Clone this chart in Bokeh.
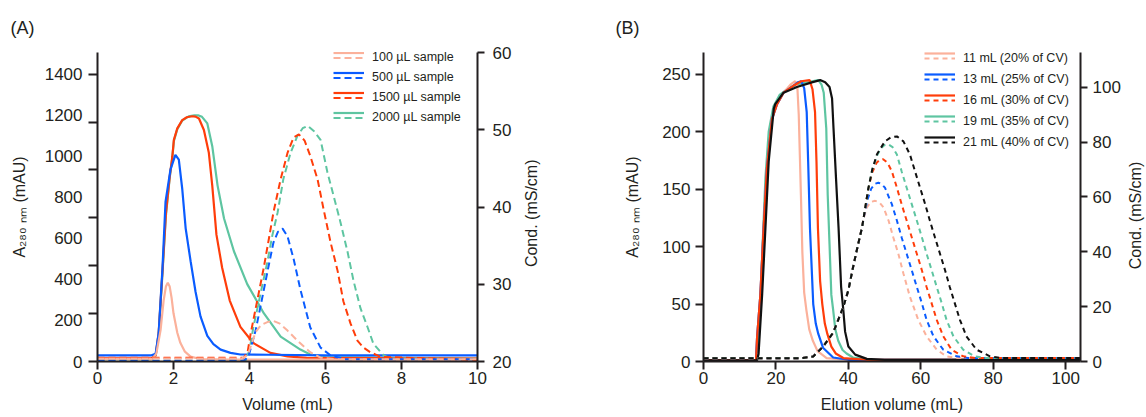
import math
from bokeh.plotting import figure
from bokeh.models import (Range1d, LinearAxis, FixedTicker, Legend, LegendItem,
                          CustomJSTickFormatter, Label)
from bokeh.layouts import row
from bokeh.embed import file_html
from bokeh.resources import INLINE

FONT = "Liberation Sans"
INK = "#231f20"

# ---------------- Panel A data ----------------
A_x_ticks = [0, 2, 4, 6, 8, 10]
A_left_labels = [0, 200, 400, 600, 800, 1000, 1200, 1400]
A_right_ticks = [20, 30, 40, 50, 60]
A_names = ["100 µL sample", "500 µL sample", "1500 µL sample", "2000 µL sample"]

a100_x = [0, 1.45, 1.55, 1.66, 1.74, 1.8, 1.85, 1.9, 1.95, 2.0, 2.1, 2.18, 2.3, 2.45, 2.7, 3.5, 10]
a100_y = [12, 12, 40, 153, 297, 365, 384, 365, 310, 235, 140, 91, 48, 24, 12, 9, 9]

a500_x = [0, 1.42, 1.53, 1.61, 1.71, 1.79, 1.92, 2.05, 2.14, 2.23, 2.32, 2.45, 2.58, 2.71, 2.89, 3.05, 3.24, 3.5, 3.76, 4.5, 6, 10]
a500_y = [30, 30, 38, 139, 455, 777, 935, 1007, 984, 841, 649, 489, 340, 220, 125, 85, 58, 42, 34, 33, 30, 30]

a1500_x = [0, 1.42, 1.53, 1.61, 1.71, 1.8, 1.9, 1.97, 2.01, 2.1, 2.23, 2.35, 2.49, 2.58, 2.67, 2.8, 2.93, 3.02, 3.13, 3.28, 3.48, 3.76, 4.1, 4.55, 5.0, 5.5, 10]
a1500_y = [15, 15, 30, 139, 440, 720, 900, 1000, 1080, 1136, 1176, 1190, 1195, 1193, 1184, 1128, 1017, 857, 618, 457, 297, 169, 90, 42, 25, 18, 14]

a2000_x = [0, 1.42, 1.53, 1.61, 1.71, 1.8, 1.9, 1.97, 2.01, 2.1, 2.23, 2.4, 2.55, 2.66, 2.75, 2.89, 3.02, 3.16, 3.33, 3.59, 3.94, 4.38, 4.82, 5.34, 5.6, 6.0, 10]
a2000_y = [12, 12, 28, 135, 430, 710, 895, 995, 1075, 1132, 1174, 1194, 1199, 1199, 1192, 1160, 1049, 857, 697, 537, 377, 234, 121, 58, 34, 22, 14]

c100_x = [0, 3.8, 3.95, 4.05, 4.16, 4.3, 4.47, 4.63, 4.8, 5.0, 5.26, 5.6, 5.87, 6.3, 10]
c100_y = [20.4, 20.4, 20.8, 22.2, 23.8, 24.7, 25.1, 25.25, 24.9, 24.0, 22.7, 21.2, 20.5, 20.3, 20.3]

c500_x = [0, 3.85, 3.97, 4.16, 4.37, 4.5, 4.63, 4.75, 4.87, 5.0, 5.16, 5.34, 5.6, 5.87, 6.13, 6.5, 10]
c500_y = [20.1, 20.1, 20.6, 24.0, 29.1, 32.3, 35.4, 36.8, 37.2, 36.2, 33.3, 29.3, 24.4, 21.8, 20.8, 20.3, 20.3]

c1500_x = [0, 3.85, 3.95, 4.03, 4.2, 4.37, 4.5, 4.63, 4.82, 5.0, 5.16, 5.3, 5.45, 5.6, 5.79, 5.95, 6.13, 6.32, 6.47, 6.66, 6.84, 7.0, 7.18, 7.45, 10]
c1500_y = [20.5, 20.5, 21.2, 23.6, 27.8, 32.0, 35.6, 39.3, 43.6, 47.0, 49.0, 49.4, 48.6, 46.6, 43.6, 39.7, 35.5, 31.7, 27.8, 24.9, 22.7, 21.8, 21.2, 20.6, 20.2]

c2000_x = [0, 3.9, 4.0, 4.1, 4.3, 4.47, 4.6, 4.74, 4.89, 5.08, 5.26, 5.4, 5.53, 5.7, 5.87, 6.05, 6.21, 6.39, 6.58, 6.74, 6.92, 7.11, 7.26, 7.53, 7.71, 10]
c2000_y = [20.1, 20.1, 21.5, 24.4, 29.0, 32.9, 36.3, 39.3, 43.6, 47.0, 49.2, 50.2, 50.5, 49.8, 48.7, 44.5, 41.5, 38.1, 34.2, 30.4, 26.9, 24.4, 22.3, 20.8, 20.4, 20.3]

# ---------------- Panel B data ----------------
B_x_ticks = [0, 20, 40, 60, 80, 100]
B_left_ticks = [0, 50, 100, 150, 200, 250]
B_right_ticks = [0, 20, 40, 60, 80, 100]
B_names = ["11 mL (20% of CV)", "13 mL (25% of CV)", "16 mL (30% of CV)",
           "19 mL (35% of CV)", "21 mL (40% of CV)"]

b11_x = [0, 14.5, 14.8, 15.7, 16.6, 17.5, 18.9, 20.3, 22.1, 24.0, 25.3, 25.9, 26.3, 26.6, 26.9, 27.3, 27.8, 28.4, 29.2, 30.2, 31.5, 34, 40, 104.1]
b11_y = [1, 1, 21, 58, 116, 168, 211, 224, 234, 241, 244, 240, 215, 180, 145, 95, 60, 45, 28, 18, 9, 3, 1.5, 1.5]

b13_x = [0, 14.5, 14.8, 15.7, 16.6, 17.5, 18.9, 20.3, 22.1, 24.8, 26.0, 27.0, 27.8, 28.5, 28.9, 29.4, 30.3, 31.0, 31.7, 33.0, 35.8, 40, 104.1]
b13_y = [1, 1, 21, 58, 116, 168, 211, 224, 234, 240, 243, 244, 238, 217, 174, 116, 50, 33, 24, 12, 3.5, 1.5, 1.5]

b16_x = [0, 14.5, 14.8, 15.7, 16.6, 17.5, 18.9, 20.3, 22.1, 24.8, 27.0, 29.3, 30.1, 30.8, 31.2, 31.6, 32.2, 32.8, 33.5, 34.2, 35.3, 36.5, 38.6, 45, 104.1]
b16_y = [1, 1, 21, 58, 116, 168, 211, 224, 234, 240, 244, 245, 237, 217, 174, 116, 70, 50, 33, 24, 13, 7, 3, 1.5, 1.5]

b19_x = [0, 14.5, 15.0, 15.6, 16.3, 17.1, 18.0, 19.3, 21, 24, 27, 30, 31.7, 32.6, 33.2, 33.9, 34.3, 34.8, 35.3, 35.8, 36.4, 37.2, 38.4, 39.5, 41.3, 46, 104.1]
b19_y = [1, 1, 4, 40, 100, 160, 200, 222, 232, 239, 242, 244, 245, 241, 234, 203, 145, 102, 58, 45, 28, 18, 10, 7, 3.5, 1.5, 1.5]

b21_x = [0, 14.8, 15.2, 16.2, 17.1, 18.0, 19.4, 19.8, 22.1, 25.8, 29.9, 32.2, 33.6, 34.8, 35.5, 35.9, 36.6, 37.3, 38.0, 38.6, 39.1, 40.0, 41.9, 45.1, 50, 104.1]
b21_y = [1, 1, 6.6, 58.6, 116, 174, 220, 224, 234, 239, 243, 245, 243, 239, 229, 203, 159, 116, 65, 45, 26, 13, 6, 2.3, 1.5, 1.5]

d11_x = [0, 27, 30.3, 33, 35.8, 38.6, 40, 41.3, 42.5, 43.5, 44.3, 45.1, 46.2, 47.4, 48.6, 49.7, 51.1, 52.4, 53.8, 55.2, 57.0, 59.3, 61.6, 64.4, 67.1, 70, 104.1]
d11_y = [1.2, 1.2, 1.8, 5.4, 10.5, 19.9, 26, 34.4, 41.6, 47.5, 52.5, 56.2, 58.2, 58.6, 58, 56.2, 51.4, 45.3, 39.3, 32.1, 23.6, 15.2, 9.2, 4.3, 1.9, 1.3, 1.3]

d13_x = [0, 27, 30.3, 33, 35.8, 38.6, 40, 41.3, 42.5, 43.8, 44.6, 45.4, 46.3, 47.3, 48.3, 49.2, 50.1, 52, 53.4, 54.7, 56.1, 57.5, 58.9, 60.3, 61.6, 63.5, 66.2, 69.9, 73, 104.1]
d13_y = [1.2, 1.2, 1.8, 5.4, 10.5, 19.9, 26, 34.4, 41.6, 49, 55, 59.5, 63, 64.8, 65.2, 64.7, 63.4, 57.4, 51.4, 45.3, 39.3, 33.3, 27.2, 21.2, 15.2, 9.2, 4.3, 1.9, 1.3, 1.3]

d16_x = [0, 27, 30.3, 33, 35.8, 38.6, 40, 41.3, 42.5, 43.8, 45.5, 46.6, 47.8, 48.7, 49.6, 50.8, 52, 53.4, 54.7, 56.1, 57.5, 58.9, 60.3, 61.6, 63, 64.4, 66.2, 68.5, 71.7, 75, 104.1]
d16_y = [1.2, 1.2, 1.8, 5.4, 10.5, 19.9, 26, 34.4, 41.6, 49, 63, 69, 72.5, 73.6, 73.8, 72.5, 69.4, 63.4, 57.4, 51.4, 45.3, 39.3, 33.3, 27.2, 21.2, 15.2, 9.2, 4.3, 1.9, 1.3, 1.3]

d19_x = [0, 27, 30.3, 33, 35.8, 38.6, 40, 41.3, 42.5, 43.8, 45.5, 46.6, 47.9, 48.9, 49.9, 51, 52.2, 53.4, 54.7, 56.1, 57.5, 58.9, 60.3, 61.6, 63, 64.4, 65.8, 67.1, 69, 71.7, 74.9, 78, 104.1]
d19_y = [1.2, 1.2, 1.8, 5.4, 10.5, 19.9, 26, 34.4, 41.6, 49, 63, 70, 75, 77.6, 78.9, 79.2, 78.2, 75.5, 69.4, 63.4, 57.4, 51.4, 45.3, 39.3, 33.3, 27.2, 21.2, 15.2, 9.2, 4.3, 1.9, 1.3, 1.3]

d21_x = [0, 27, 30.3, 33, 35.8, 38.6, 40, 41.3, 42.5, 43.8, 45.5, 46.6, 47.9, 50.1, 51.8, 53.4, 55.2, 57.0, 58.4, 59.8, 61.2, 62.5, 63.9, 65.3, 66.7, 68.0, 69.4, 70.8, 72.6, 75.4, 79.1, 82, 104.1]
d21_y = [1.2, 1.2, 1.8, 5.4, 10.5, 19.9, 26, 34.4, 41.6, 49, 63, 70, 75.6, 80.3, 81.8, 82.1, 80.3, 75.5, 69.4, 63.4, 57.4, 51.4, 45.3, 39.3, 33.3, 27.2, 21.2, 15.2, 9.2, 4.3, 1.9, 1.3, 1.3]

COND_TITLE = "Cond. (mS/cm)"

SALMON = "#fbb19b"
BLUE = "#0a5cff"
RED = "#ff3d0a"
TEAL = "#5ec5a1"
BLACK = "#111111"

H = 417


def style_axis(ax, tick_out, standoff, label_standoff):
    ax.axis_line_width = 2
    ax.axis_line_color = INK
    ax.major_tick_line_width = 2
    ax.major_tick_line_color = INK
    ax.major_tick_out = tick_out
    ax.major_tick_in = 0
    ax.minor_tick_out = 0
    ax.minor_tick_in = 0
    ax.minor_tick_line_color = None
    ax.major_label_text_font = FONT
    ax.major_label_text_font_size = "17px"
    ax.major_label_text_color = INK
    ax.major_label_standoff = standoff
    ax.axis_label_text_font = FONT
    ax.axis_label_text_font_size = "16px"
    ax.axis_label_text_font_style = "normal"
    ax.axis_label_text_color = INK
    ax.axis_label_standoff = label_standoff


def base_fig(w, h, xr, yr, yr2, bl, br, bt, bb, title, toff):
    p = figure(width=w, height=h, x_range=Range1d(*xr), y_range=Range1d(*yr),
               output_backend="svg", toolbar_location=None,
               min_border_left=bl, min_border_right=br,
               min_border_top=bt, min_border_bottom=bb)
    p.extra_y_ranges = {"cond": Range1d(*yr2)}
    p.outline_line_color = None
    p.xgrid.visible = False
    p.ygrid.visible = False
    p.title.text = title
    p.title.align = "left"
    p.title.offset = toff
    p.title.text_font = FONT
    p.title.text_font_size = "18px"
    p.title.text_font_style = "normal"
    p.title.text_color = INK
    p.title.standoff = 30
    return p


def legends(p, solids, dashes, names, vx, vy_d, vy_s, gh):
    common = dict(padding=0, margin=0, spacing=3, glyph_width=31, glyph_height=gh,
                  label_height=gh, label_standoff=8, background_fill_alpha=0,
                  border_line_color=None, label_text_font=FONT,
                  label_text_color=INK)
    ls = Legend(items=[LegendItem(label=" ", renderers=[r]) for r in solids],
                location=(vx, vy_s), label_text_font_size="1px", label_width=1,
                **common)
    ls.label_text_alpha = 0
    ld = Legend(items=[LegendItem(label=n, renderers=[r]) for n, r in zip(names, dashes)],
                location=(vx, vy_d), label_text_font_size="12.5px", **common)
    p.add_layout(ls, "center")
    p.add_layout(ld, "center")


def label_strip(w, cx, cy_from_top):
    """Narrow figure that holds the rotated right-hand axis title."""
    s = figure(width=w, height=H, x_range=Range1d(0, w), y_range=Range1d(0, H),
               output_backend="svg", toolbar_location=None, title=None,
               x_axis_type=None, y_axis_type=None, min_border=0)
    s.outline_line_color = None
    s.grid.visible = False
    s.add_layout(Label(x=cx, y=H - cy_from_top, text=COND_TITLE, angle=math.pi / 2,
                       text_align="center", text_baseline="middle",
                       text_font=FONT, text_font_size="16px", text_color=INK))
    return s


# ---------------- Panel A ----------------
pA = base_fig(522, H, (0, 10), (0, 1505.5), (20, 60), 97, 45, 48, 55, "(A)", -87)

tick_ax = pA.yaxis[0]
style_axis(tick_ax, 9, 0, 0)
tick_ax.ticker = FixedTicker(ticks=[1400 / 6 * k for k in range(7)])
tick_ax.formatter = CustomJSTickFormatter(code="return ''")

lab_ax = LinearAxis(ticker=FixedTicker(ticks=A_left_labels),
                    axis_label="A₂₈₀ ₙₘ (mAU)")
style_axis(lab_ax, 0, 6, 14)
lab_ax.axis_line_color = None
lab_ax.major_tick_line_color = None
pA.add_layout(lab_ax, "left")

style_axis(pA.xaxis[0], 8, 2, 9)
pA.xaxis[0].ticker = FixedTicker(ticks=A_x_ticks)
pA.xaxis[0].axis_label = "Volume (mL)"

raA = LinearAxis(y_range_name="cond", ticker=FixedTicker(ticks=A_right_ticks))
style_axis(raA, 7, 8, 0)
pA.add_layout(raA, "right")

sw, dw = 2.2, 2.0
dashA = "7 4"
sA = {}
for key, xs, ys, col in [("2000", a2000_x, a2000_y, TEAL), ("1500", a1500_x, a1500_y, RED),
                         ("500", a500_x, a500_y, BLUE), ("100", a100_x, a100_y, SALMON)]:
    sA[key] = pA.line(xs, ys, line_color=col, line_width=sw)
dA = {}
for key, xs, ys, col in [("2000", c2000_x, c2000_y, TEAL), ("1500", c1500_x, c1500_y, RED),
                         ("500", c500_x, c500_y, BLUE), ("100", c100_x, c100_y, SALMON)]:
    dA[key] = pA.line(xs, ys, line_color=col, line_width=dw, line_dash=dashA,
                      y_range_name="cond")
orderA = ["100", "500", "1500", "2000"]
legends(pA, [sA[k] for k in orderA], [dA[k] for k in orderA], A_names,
        236, 235.5, 240.5, 17)

stripA = label_strip(60, 9, 217)

# ---------------- Panel B ----------------
pB = base_fig(541, H, (0, 104.1), (0, 269), (0, 112.7), 121, 42, 50, 56, "(B)", -88)

style_axis(pB.yaxis[0], 8, 5, 18)
pB.yaxis[0].ticker = FixedTicker(ticks=B_left_ticks)
pB.yaxis[0].axis_label = "A₂₈₀ ₙₘ (mAU)"

style_axis(pB.xaxis[0], 8, 2, 9)
pB.xaxis[0].ticker = FixedTicker(ticks=B_x_ticks)
pB.xaxis[0].axis_label = "Elution volume (mL)"

raB = LinearAxis(y_range_name="cond", ticker=FixedTicker(ticks=B_right_ticks))
style_axis(raB, 7, 5, 0)
pB.add_layout(raB, "right")

dashB = "5 4"
sB = {}
for key, xs, ys, col in [("19", b19_x, b19_y, TEAL), ("11", b11_x, b11_y, SALMON),
                         ("13", b13_x, b13_y, BLUE), ("16", b16_x, b16_y, RED),
                         ("21", b21_x, b21_y, BLACK)]:
    sB[key] = pB.line(xs, ys, line_color=col, line_width=sw)
dB = {}
for key, xs, ys, col in [("11", d11_x, d11_y, SALMON), ("13", d13_x, d13_y, BLUE),
                         ("16", d16_x, d16_y, RED), ("19", d19_x, d19_y, TEAL),
                         ("21", d21_x, d21_y, BLACK)]:
    dB[key] = pB.line(xs, ys, line_color=col, line_width=dw, line_dash=dashB,
                      y_range_name="cond")
orderB = ["11", "13", "16", "19", "21"]
legends(pB, [sB[k] for k in orderB], [dB[k] for k in orderB], B_names,
        221, 210, 215, 18)

stripB = label_strip(23, 12, 220)

layout = row(pA, stripA, pB, stripB)
open("out.html", "w").write(file_html(layout, INLINE))
